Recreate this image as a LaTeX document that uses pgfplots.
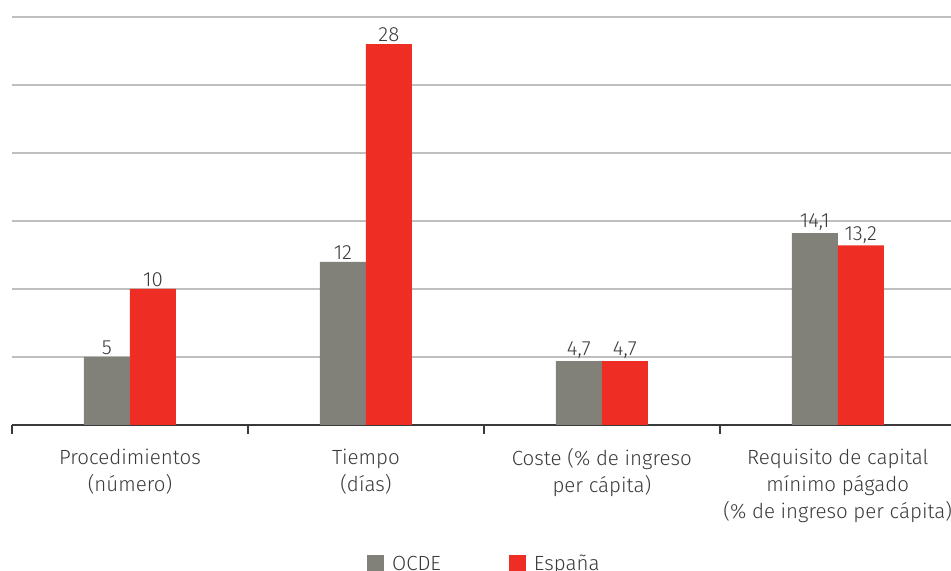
\documentclass[border=0pt]{standalone}
\usepackage{fontspec}
\setmainfont{Fira Sans}[UprightFont=* Light]
\usepackage{pgfplots}
\pgfplotsset{compat=1.18}
\definecolor{ocde}{HTML}{828179}
\definecolor{espana}{HTML}{EE2E24}
\definecolor{txt}{HTML}{3A3A3A}
\definecolor{gridc}{HTML}{BFBFBF}
\begin{document}
\begin{tikzpicture}
\begin{axis}[
  name=ax,
  scale only axis,
  width=939pt, height=408pt,
  xmin=-0.5, xmax=3.48,
  ymin=0, ymax=30,
  clip=false,
  ybar=0pt, bar width=46pt,
  axis x line=bottom, axis y line=left,
  x axis line style={-, draw=txt, line width=1.5pt},
  y axis line style={draw=none},
  ytick={5,10,...,30}, yticklabels={},
  y tick style={draw=none},
  ymajorgrids,
  major grid style={draw=gridc, line width=2.2pt},
  xtick={0,1,2,3},
  xticklabels={{Procedimientos\\(número)},{Tiempo\\(días)},{Coste (\% de ingreso\\per cápita)},{Requisito de capital\\mínimo págado\\(\% de ingreso per cápita)}},
  x tick style={draw=none},
  minor xtick={-0.5,0.5,1.5,2.5},
  minor x tick style={draw=txt, line width=1.5pt},
  minor tick length=9pt,
  tick align=outside,
  xticklabel style={align=center, font=\fontsize{20.5}{27}\selectfont, text=txt, yshift=-16pt},
  nodes near coords,
  nodes near coords style={font=\fontsize{20.5}{24}\selectfont, text=txt, inner sep=2pt},
  /pgf/number format/use comma,
  /pgf/number format/assume math mode=true,
  legend columns=2,
  legend style={draw=none, at={(0.503,-0.34)}, anchor=center,
    font=\fontsize{20.5}{24}\selectfont, text=txt,
    /tikz/every odd column/.append style={column sep=6pt},
    /tikz/every even column/.append style={column sep=66pt}},
  legend image code/.code={\fill[#1] (0pt,-8.5pt) rectangle (17pt,8.5pt);},
]
\addplot[fill=ocde, draw=none] coordinates {(0,5) (1,12) (2,4.7) (3,14.1)};
\addplot[fill=espana, draw=none] coordinates {(0,10) (1,28) (2,4.7) (3,13.2)};
\legend{OCDE, España}
\end{axis}
\pgfresetboundingbox
\useasboundingbox ([xshift=-12pt,yshift=-146pt]ax.south west) rectangle ([yshift=17pt]ax.north east);
\end{tikzpicture}
\end{document}
